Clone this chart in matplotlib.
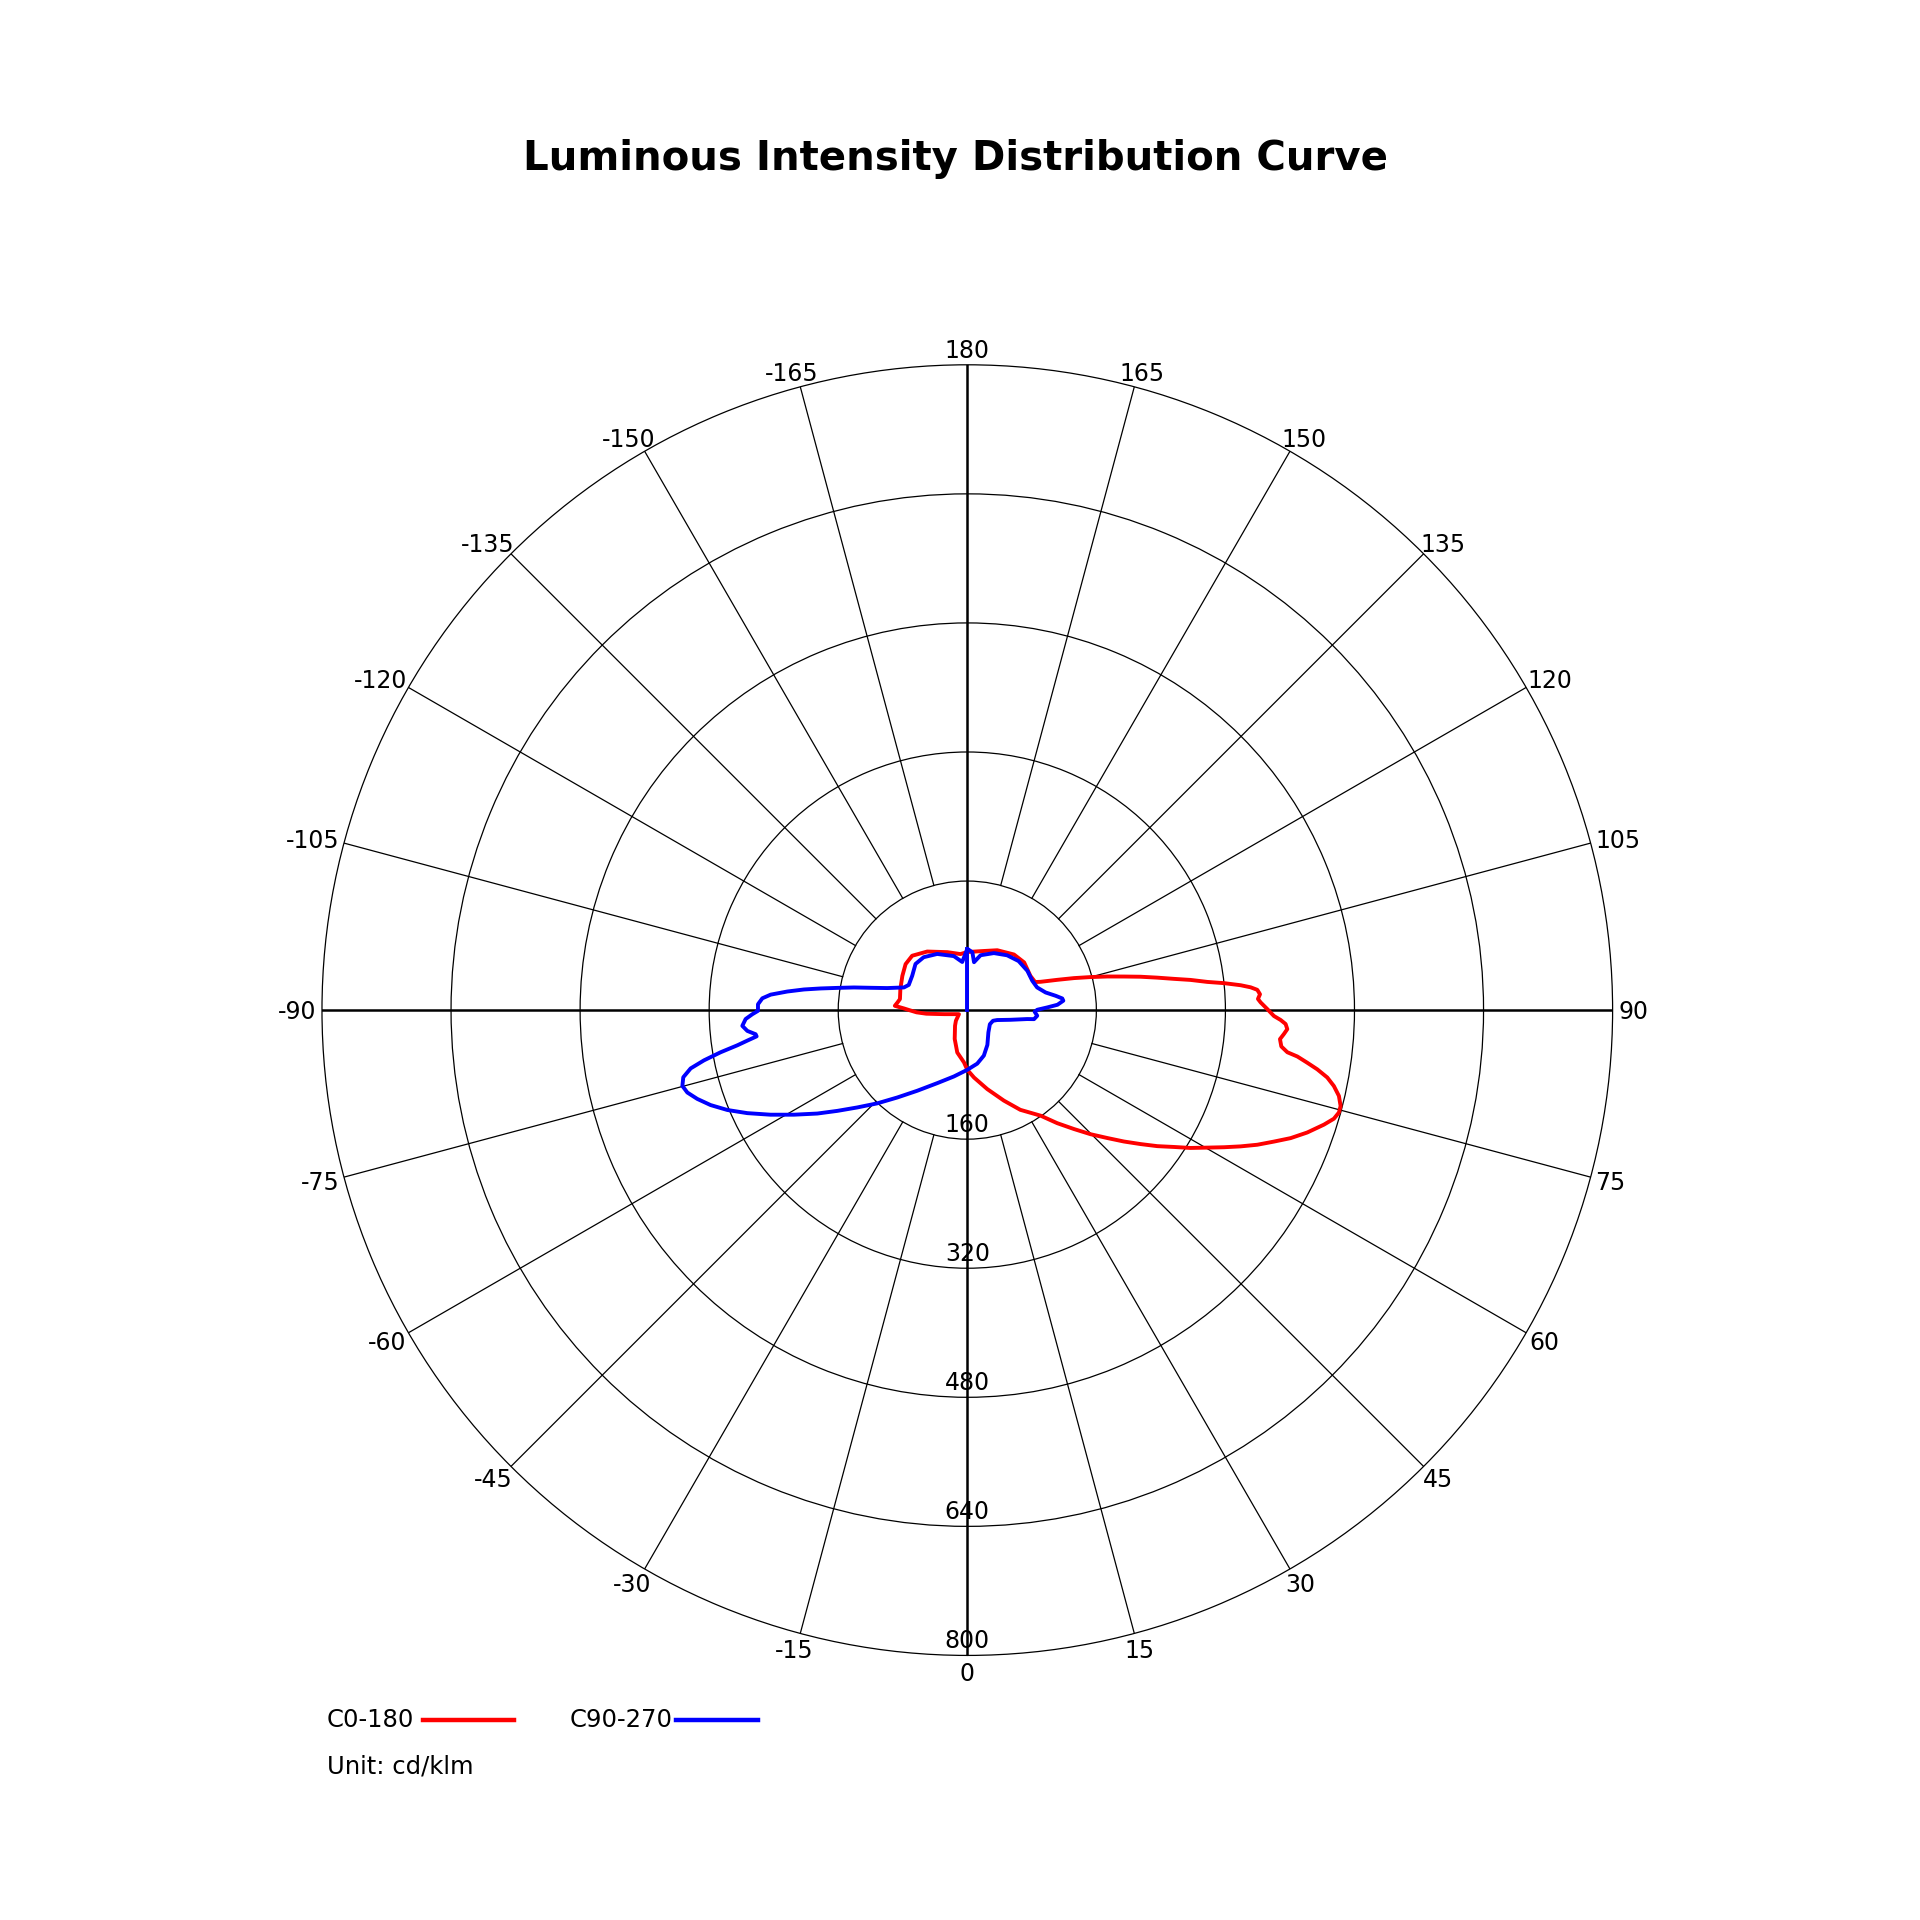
import numpy as np
import matplotlib
matplotlib.use("Agg")
import matplotlib.pyplot as plt
from matplotlib.transforms import offset_copy

# ---------------- data (cd/klm) ----------------
# C0 half-plane (plotted on the right, gamma 0..180)
c0_gamma = [0, 5.7, 14.2, 22, 28, 34.8, 38.5, 41.9, 44.8, 47.6, 50.0, 52.3, 54.4,
            56.5, 58.3, 60.2, 61.9, 63.5, 65.1, 66.8, 68.4, 70.2, 72.2, 73.5,
            74.6, 75.6, 77.0, 78.3, 79.4, 80.4, 81.2, 82.0, 82.5, 83.4, 84.7,
            85.7, 86.6, 87.5, 88.2, 88.9, 90.2, 91.5, 92.2, 93.1, 94.0, 94.6,
            95.2, 96.0, 96.7, 97.7, 98.6, 99.7, 100.9, 102.1, 103.5, 105.0,
            106.7, 108.6, 111.1, 112.5, 118.5, 130, 140, 153.4, 167, 180]
c0_value = [74, 84, 101, 121, 140, 159.4, 179.1, 198.1, 216.8, 235.2, 253.4,
            271.6, 289.7, 307.4, 325.2, 343.0, 360.9, 378.6, 396.4, 413.7, 431.1,
            447.9, 464.4, 474.0, 477.9, 477.8, 472.8, 464.1, 454.0, 440.0, 426.5,
            413.2, 400.2, 391.9, 389.3, 393.7, 397.4, 395.0, 388.6, 380.2, 371.9,
            363.8, 360.6, 363.4, 360.4, 352.4, 340.3, 319.9, 299.6, 279.3, 259.1,
            238.9, 218.8, 198.6, 178.5, 158.3, 138.1, 117.7, 97.5, 91, 89, 92, 90,
            83, 75, 72]

# C180 half-plane (plotted on the left)
c180_gamma = [0, 3.6, 13.3, 23.6, 38, 47, 64, 70, 76, 80, 82.5, 85, 87.5, 90,
              91.5, 93.4, 96.3, 99.3, 107.5, 117.8, 126.7, 134.6, 145.6, 161,
              173, 180]
c180_value = [74, 65, 54, 39, 24.7, 19.3, 11.5, 14.6, 20.7, 28.8, 37, 51, 63, 72,
              78.5, 90, 87, 84.6, 87, 91, 95.4, 96, 88, 76, 70, 72]

# C90 half-plane (plotted on the right)
c90_gamma = [0, 10.5, 20, 30, 43.5, 58, 67.5, 71.6, 77.4, 81.5, 82.3, 85.4,
             88.6, 90.3, 91.9, 93.4, 95.6, 97, 99.2, 102.7, 108, 114.3, 123.2,
             133.7, 144, 155, 166.4, 172, 175, 180]
c90_value = [74, 67.5, 60, 49.8, 38, 33, 34.5, 39, 55, 75, 83.5, 87, 83.5, 86.8,
             99, 112, 119.6, 118.6, 111, 99.5, 91, 88.4, 89, 88, 84, 78, 70, 60,
             72, 76]

# C270 half-plane (plotted on the left)
c270_gamma = [0, 11.4, 22.3, 31.8, 38.7, 44.0, 48.5, 52.2, 55.4, 58.9, 62.0,
              64.9, 67.4, 69.7, 71.8, 73.6, 75.1, 76.7, 78.1, 79.2, 80.3, 81.3,
              82.1, 82.9, 83.5, 84.6, 86.0, 87.7, 88.9, 89.8, 91.6, 93.3, 94.5,
              95.9, 97.2, 98.4, 99.7, 101.3, 103.0, 105.4, 109.7, 113.3, 122,
              131.7, 140.5, 151.8, 166, 174, 180]
c270_value = [74, 83.9, 97.8, 117.6, 138.8, 160.7, 182.1, 203.8, 225.8, 251.0,
              276.2, 301.1, 322.2, 339.3, 352.4, 361.8, 365.5, 361.8, 350.5,
              332.3, 310.3, 288.4, 275.4, 263.2, 264.1, 273.9, 279.6, 275.0,
              266.6, 259.5, 259.6, 254.5, 244.5, 224.3, 204.1, 183.8, 163.5,
              143.3, 123.0, 102.9, 83.4, 79, 80.5, 86, 85, 79, 69, 60, 76]

angle_ticks = list(range(-165, 181, 15))
ring_values = [160, 320, 480, 640, 800]
series_names = ["C0-180", "C90-270"]
series_colors = ["#ff0000", "#0000ff"]
title = "Luminous Intensity Distribution Curve"
unit_text = "Unit: cd/klm"

# ---------------- figure ----------------
FS = 17
FS_LEG = 17.5
fig = plt.figure(figsize=(19.2, 19.2), dpi=100)
ax = fig.add_axes([0.1677, 0.1378, 0.6722, 0.6722], projection="polar")
ax.set_theta_zero_location("S")
ax.set_theta_direction(1)
ax.set_ylim(0, ring_values[-1])
ax.set_xticks([])
ax.set_yticks(ring_values[:-1])
ax.set_yticklabels([])
ax.tick_params(axis="y", length=0)
ax.yaxis.grid(True, color="black", linewidth=0.9)
ax.xaxis.grid(False)
ax.spines["polar"].set_linewidth(0.9)
ax.spines["polar"].set_color("black")

# spokes
for a in angle_ticks:
    if a % 90 == 0:
        continue
    ax.plot([np.deg2rad(a)] * 2, [ring_values[0], ring_values[-1]],
            color="black", linewidth=0.9, zorder=2)
for a in (0, 90, 180, -90):
    ax.plot([np.deg2rad(a)] * 2, [0, ring_values[-1]], color="black",
            linewidth=1.8, zorder=2)

# curves
red_theta = np.deg2rad(np.concatenate([-np.array(c180_gamma)[::-1], c0_gamma]))
red_r = np.concatenate([np.array(c180_value)[::-1], c0_value])
blue_theta = np.deg2rad(np.concatenate([-np.array(c270_gamma)[::-1], c90_gamma]))
blue_r = np.concatenate([np.array(c270_value)[::-1], c90_value])

ax.plot(red_theta, red_r, color=series_colors[0], linewidth=2.8,
        solid_joinstyle="round", solid_capstyle="round", zorder=4)
ax.plot(blue_theta, blue_r, color=series_colors[1], linewidth=2.8,
        solid_joinstyle="round", solid_capstyle="round", zorder=5)
ax.plot([np.pi, np.pi], [0, c90_value[-1]], color=series_colors[1],
        linewidth=2.8, zorder=5)

# ring labels
for v in ring_values:
    ax.text(0, v, str(v), ha="center", va="baseline", fontsize=FS,
            transform=offset_copy(ax.transData, fig=fig, x=0, y=7, units="dots"),
            zorder=6)

# angle labels
fig.canvas.draw()
renderer = fig.canvas.get_renderer()
fs_px = FS * fig.dpi / 72.0
cap = 0.729 * fs_px
for a in angle_ticks:
    th = np.deg2rad(a)
    t = ax.text(th, ring_values[-1], str(a), ha="center", va="baseline",
                fontsize=FS, zorder=6)
    w = t.get_window_extent(renderer).width
    s, c = np.sin(th), np.cos(th)
    dx = s * (w / 2 + 5.5)
    dy_down = c * (17.0 if c > 0 else 15.3)
    t.set_transform(offset_copy(ax.transData, fig=fig, x=dx,
                                y=-dy_down - cap / 2, units="dots"))

# title
fig.text(0.4974, 0.9115, title, ha="center", va="baseline", fontsize=29,
         fontweight="bold")

# legend
fig.text(327 / 1920, 0.1004, series_names[0], ha="left", va="baseline",
         fontsize=FS_LEG)
fig.add_artist(plt.Line2D([423 / 1920, 514 / 1920], [0.1042, 0.1042],
                          color=series_colors[0], linewidth=3.2,
                          transform=fig.transFigure))
fig.text(570 / 1920, 0.1004, series_names[1], ha="left", va="baseline",
         fontsize=FS_LEG)
fig.add_artist(plt.Line2D([676 / 1920, 758 / 1920], [0.1042, 0.1042],
                          color=series_colors[1], linewidth=3.2,
                          transform=fig.transFigure))
fig.text(327 / 1920, 0.0764, unit_text, ha="left", va="baseline",
         fontsize=FS_LEG)

fig.savefig("out.png", dpi=100, facecolor="white")
